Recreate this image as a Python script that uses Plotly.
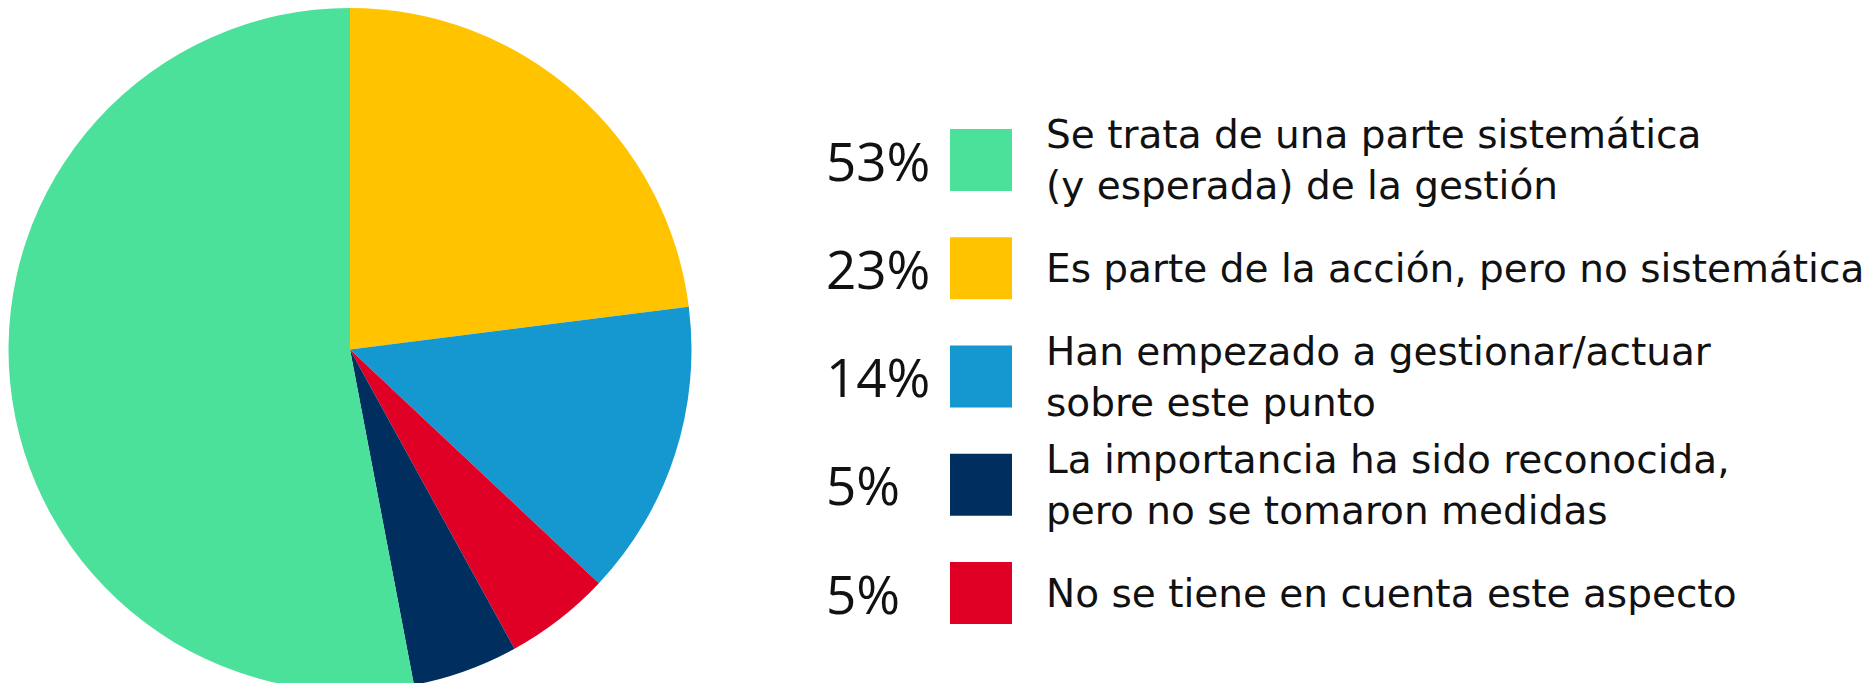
import plotly.graph_objects as go

# legend order (top to bottom)
pcts = ['53%', '23%', '14%', '5%', '5%']
values = [53, 23, 14, 5, 5]
labels = [
    'Se trata de una parte sistemática<br>(y esperada) de la gestión',
    'Es parte de la acción, pero no sistemática',
    'Han empezado a gestionar/actuar<br>sobre este punto',
    'La importancia ha sido reconocida,<br>pero no se tomaron medidas',
    'No se tiene en cuenta este aspecto',
]
colors = ['#4BE19B', '#FFC300', '#1597D0', '#002F5F', '#E00025']

# order of the slices clockwise from 12 o'clock
pie_order = [1, 2, 4, 3, 0]

W, H = 1875, 683
font = 'Open Sans'
label_font = 'DejaVu Sans'

fig = go.Figure()

fig.add_trace(go.Pie(
    values=[values[i] for i in pie_order],
    labels=[labels[i] for i in pie_order],
    marker=dict(colors=[colors[i] for i in pie_order], line=dict(width=0)),
    sort=False, direction='clockwise', rotation=0,
    textinfo='none', hoverinfo='skip',
    domain=dict(x=[0, 684 / W], y=[0, 1]),
))

# legend squares
idx = list(range(len(values)))
fig.add_trace(go.Scatter(
    x=[973 / W] * len(idx), y=idx,
    mode='markers',
    marker=dict(symbol='square', size=62, color=colors, line=dict(width=0)),
    hoverinfo='skip',
))

for i in idx:
    fig.add_annotation(x=816 / W, y=i, xref='paper', yref='y', text=pcts[i],
                       showarrow=False, xanchor='left', yanchor='middle',
                       font=dict(family=font, size=53, color='#111111'))
    fig.add_annotation(x=1036 / W, y=i, xref='paper', yref='y', text=labels[i],
                       showarrow=False, xanchor='left', yanchor='middle', align='left',
                       font=dict(family=label_font, size=39, color='#111111'))

px_per = 108.25
top = 152
fig.update_xaxes(range=[0, 1], domain=[0, 1], visible=False, fixedrange=True)
fig.update_yaxes(range=[(H - top) / px_per, -top / px_per], domain=[0, 1],
                 visible=False, fixedrange=True)

fig.update_layout(
    width=W, height=H,
    margin=dict(l=0, r=0, t=0, b=0),
    paper_bgcolor='white', plot_bgcolor='white',
    showlegend=False,
    font=dict(family=font),
)

fig.write_html("out.html")
